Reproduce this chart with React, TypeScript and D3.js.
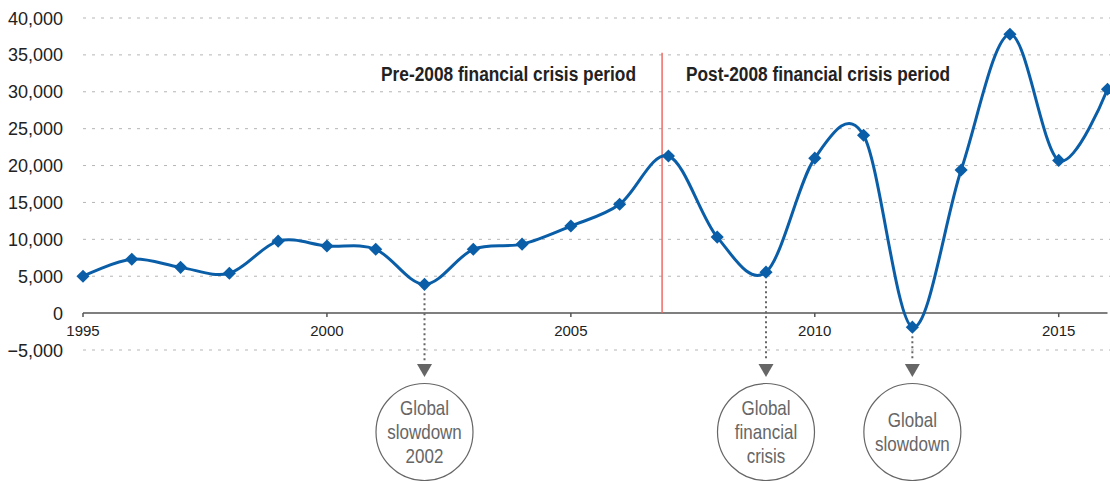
import React, { useEffect, useRef } from 'react';
import * as d3 from 'd3';

const years = [1995, 1996, 1997, 1998, 1999, 2000, 2001, 2002, 2003, 2004, 2005,
  2006, 2007, 2008, 2009, 2010, 2011, 2012, 2013, 2014, 2015, 2016];
const values = [5000, 7300, 6200, 5400, 9750, 9100, 8650, 3900, 8650, 9350, 11800,
  14750, 21300, 10300, 5550, 21000, 24100, -1900, 19400, 37800, 20700, 30350];
const yTicks = [-5000, 0, 5000, 10000, 15000, 20000, 25000, 30000, 35000, 40000];
const xTicks = [1995, 2000, 2005, 2010, 2015];
const crisisYear = 2006.87;
const crisisTop = 35300;
const periodLabels = ['Pre-2008 financial crisis period', 'Post-2008 financial crisis period'];
const eventYears = [2002, 2009, 2012];
const eventLabels = [
  ['Global', 'slowdown', '2002'],
  ['Global', 'financial', 'crisis'],
  ['Global', 'slowdown'],
];

const W = 1110;
const H = 481;
const FONT = '"Liberation Sans Narrow", "Liberation Sans", Arial, sans-serif';
const BLUE = '#0a5ea8';

export default function App() {
  const ref = useRef<SVGSVGElement>(null);

  useEffect(() => {
    const svg = d3.select(ref.current);
    svg.selectAll('*').remove();

    const x = d3.scaleLinear().domain([1995, 2016]).range([83, 1107.5]);
    const y = d3.scaleLinear().domain([-5000, 40000]).range([350, 18]);

    // grid
    svg.append('g')
      .selectAll('line')
      .data(yTicks.filter(d => d !== 0))
      .join('line')
      .attr('x1', x(1995))
      .attr('x2', W)
      .attr('y1', d => y(d))
      .attr('y2', d => y(d))
      .attr('stroke', '#b5b5b5')
      .attr('stroke-width', 1)
      .attr('stroke-dasharray', '3,6');

    // y labels
    svg.append('g')
      .selectAll('text')
      .data(yTicks)
      .join('text')
      .attr('x', 63)
      .attr('y', d => y(d) + 6.5)
      .attr('text-anchor', 'end')
      .attr('font-family', FONT)
      .attr('font-size', 18)
      .attr('fill', '#222')
      .text(d => d3.format(',')(d));

    // x axis
    svg.append('line')
      .attr('x1', x(1995)).attr('x2', x(2016))
      .attr('y1', y(0)).attr('y2', y(0))
      .attr('stroke', '#555').attr('stroke-width', 1.5);
    const xg = svg.append('g');
    xg.selectAll('line')
      .data(xTicks)
      .join('line')
      .attr('x1', d => x(d)).attr('x2', d => x(d))
      .attr('y1', y(0)).attr('y2', y(0) + 4)
      .attr('stroke', '#555').attr('stroke-width', 1.5);
    xg.selectAll('text')
      .data(xTicks)
      .join('text')
      .attr('x', d => x(d))
      .attr('y', y(0) + 23)
      .attr('text-anchor', 'middle')
      .attr('font-family', FONT)
      .attr('font-size', 15)
      .attr('fill', '#222')
      .text(d => d);

    // crisis divider
    svg.append('line')
      .attr('x1', x(crisisYear)).attr('x2', x(crisisYear))
      .attr('y1', y(crisisTop)).attr('y2', y(0))
      .attr('stroke', '#f26a63').attr('stroke-width', 1.5);

    svg.append('text')
      .attr('x', 636).attr('y', 81)
      .attr('text-anchor', 'end')
      .attr('font-family', FONT).attr('font-weight', 'bold').attr('font-size', 20)
      .attr('fill', '#222')
      .attr('textLength', 255).attr('lengthAdjust', 'spacingAndGlyphs')
      .text(periodLabels[0]);
    svg.append('text')
      .attr('x', 686).attr('y', 81)
      .attr('font-family', FONT).attr('font-weight', 'bold').attr('font-size', 20)
      .attr('fill', '#222')
      .attr('textLength', 264).attr('lengthAdjust', 'spacingAndGlyphs')
      .text(periodLabels[1]);

    // event annotations
    eventYears.forEach((yr, i) => {
      const v = values[years.indexOf(yr)];
      const cx = x(yr);
      const g = svg.append('g');
      g.append('line')
        .attr('x1', cx).attr('x2', cx)
        .attr('y1', y(v) + 9).attr('y2', 361)
        .attr('stroke', '#666').attr('stroke-width', 2)
        .attr('stroke-dasharray', '2,3');
      g.append('path')
        .attr('d', `M${cx - 7.5},364 L${cx + 7.5},364 L${cx},377 Z`)
        .attr('fill', '#666');
      g.append('circle')
        .attr('cx', cx).attr('cy', 432).attr('r', 48.5)
        .attr('fill', 'white').attr('stroke', '#666').attr('stroke-width', 1.2);
      const lines = eventLabels[i];
      const start = 432 - (lines.length - 1) * 24 / 2;
      lines.forEach((t, j) => {
        // condensed look
        g.append('text')
          .attr('transform', `translate(${cx},${start + j * 24 + 7}) scale(0.85,1)`)
          .attr('text-anchor', 'middle')
          .attr('font-family', FONT).attr('font-size', 20)
          .attr('fill', '#666')
          .text(t);
      });
    });

    // series
    const pts = years.map((yr, i) => [yr, values[i]] as [number, number]);
    svg.append('path')
      .datum(pts)
      .attr('fill', 'none')
      .attr('stroke', BLUE)
      .attr('stroke-width', 3)
      .attr('d', d3.line<[number, number]>()
        .x(d => x(d[0]))
        .y(d => y(d[1]))
        .curve(d3.curveCardinal.tension(0)));

    svg.append('g')
      .selectAll('path')
      .data(pts)
      .join('path')
      .attr('transform', d => `translate(${x(d[0])},${y(d[1])})`)
      .attr('d', d3.symbol(d3.symbolDiamond2, 110)())
      .attr('fill', BLUE);
  }, []);

  return (
    <svg ref={ref} width={W} height={H}
      style={{ position: 'absolute', left: 0, top: 0, background: 'white' }} />
  );
}
